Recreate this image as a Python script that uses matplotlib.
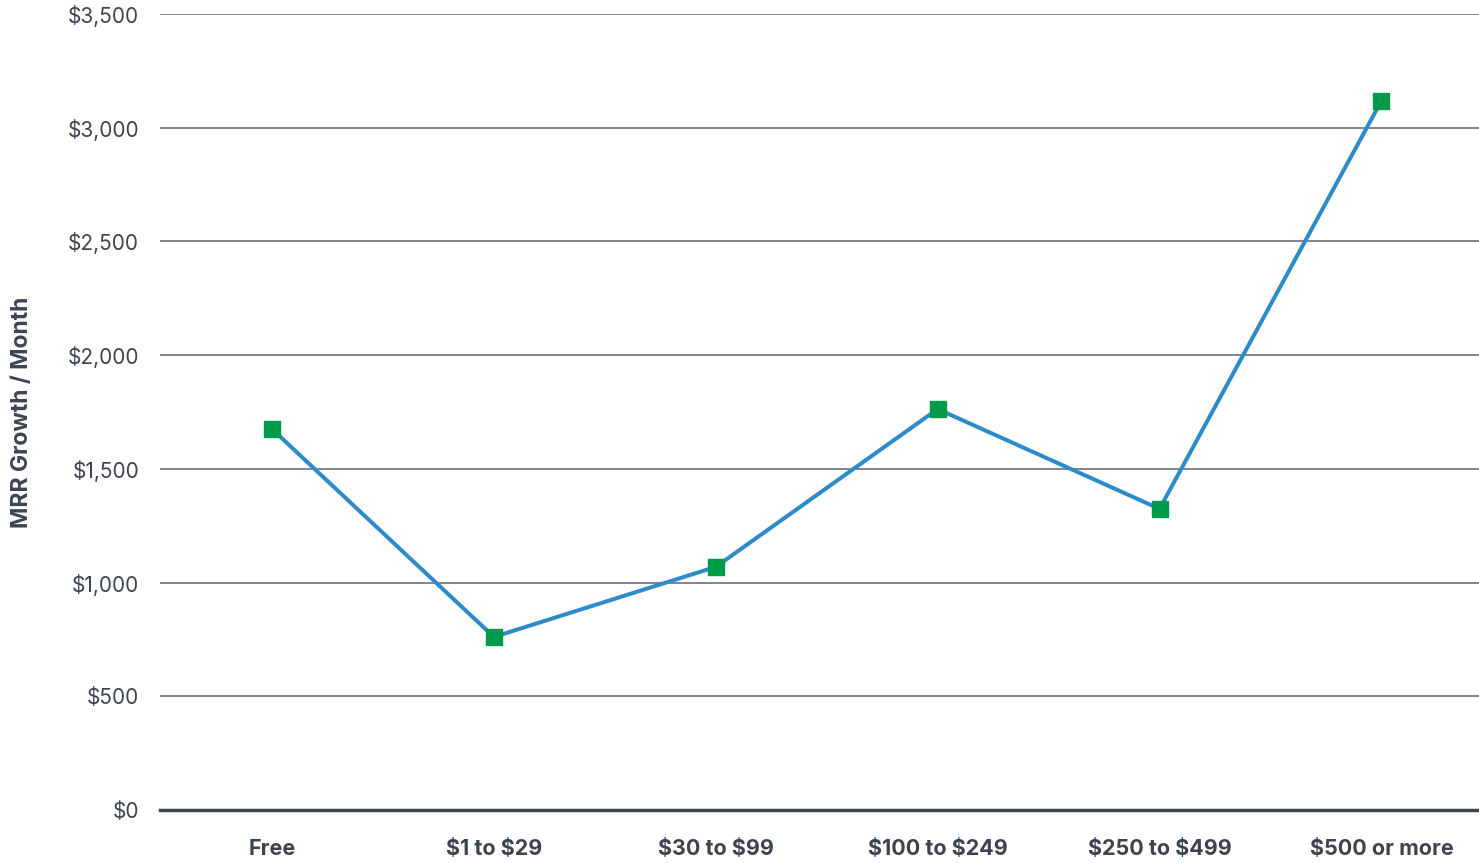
import matplotlib.pyplot as plt
from matplotlib.ticker import FuncFormatter

tiers = ["Free", "$1 to $29", "$30 to $99", "$100 to $249", "$250 to $499", "$500 or more"]
mrr_growth = [1675, 761, 1069, 1763, 1324, 3118]
y_ticks = [0, 500, 1000, 1500, 2000, 2500, 3000, 3500]

TEXT = "#3d4451"
LINE = "#2e8bc9"
MARKER = "#009b48"

plt.rcParams["font.family"] = ["Inter", "DejaVu Sans"]
plt.rcParams["text.parse_math"] = False

fig = plt.figure(figsize=(14.79, 8.63), dpi=100)
ax = fig.add_axes([160 / 1479, 1 - 810 / 863, 1 - 160 / 1479, (810 - 14) / 863])

x = list(range(len(tiers)))
ax.plot(x, mrr_growth, color=LINE, linewidth=2.9, zorder=3,
        marker="s", markersize=12, markerfacecolor=MARKER,
        markeredgecolor=MARKER, clip_on=False)

ax.set_ylim(0, 3500)
ax.set_xlim(-0.505, 5.44)
ax.set_yticks(y_ticks)
ax.yaxis.set_major_formatter(FuncFormatter(lambda v, _: f"${v:,.0f}"))
ax.grid(axis="y", color="#5f6670", linewidth=1.1)
ax.set_axisbelow(True)

ax.set_xticks(x)
ax.set_xticklabels(tiers, fontweight="bold")
ax.tick_params(axis="x", length=0, pad=21, labelsize=15.5, labelcolor=TEXT)
ax.tick_params(axis="y", length=0, pad=15, labelsize=15, labelcolor=TEXT)

for side in ["top", "right", "left"]:
    ax.spines[side].set_visible(False)
ax.spines["bottom"].set_color("#3d4451")
ax.spines["bottom"].set_linewidth(2.5)

fig.text(22 / 1479, 1 - 412 / 863, "MRR Growth / Month", rotation=90,
         ha="center", va="center", fontsize=16.5, fontweight="bold", color=TEXT)

fig.savefig("out.png", dpi=100)
